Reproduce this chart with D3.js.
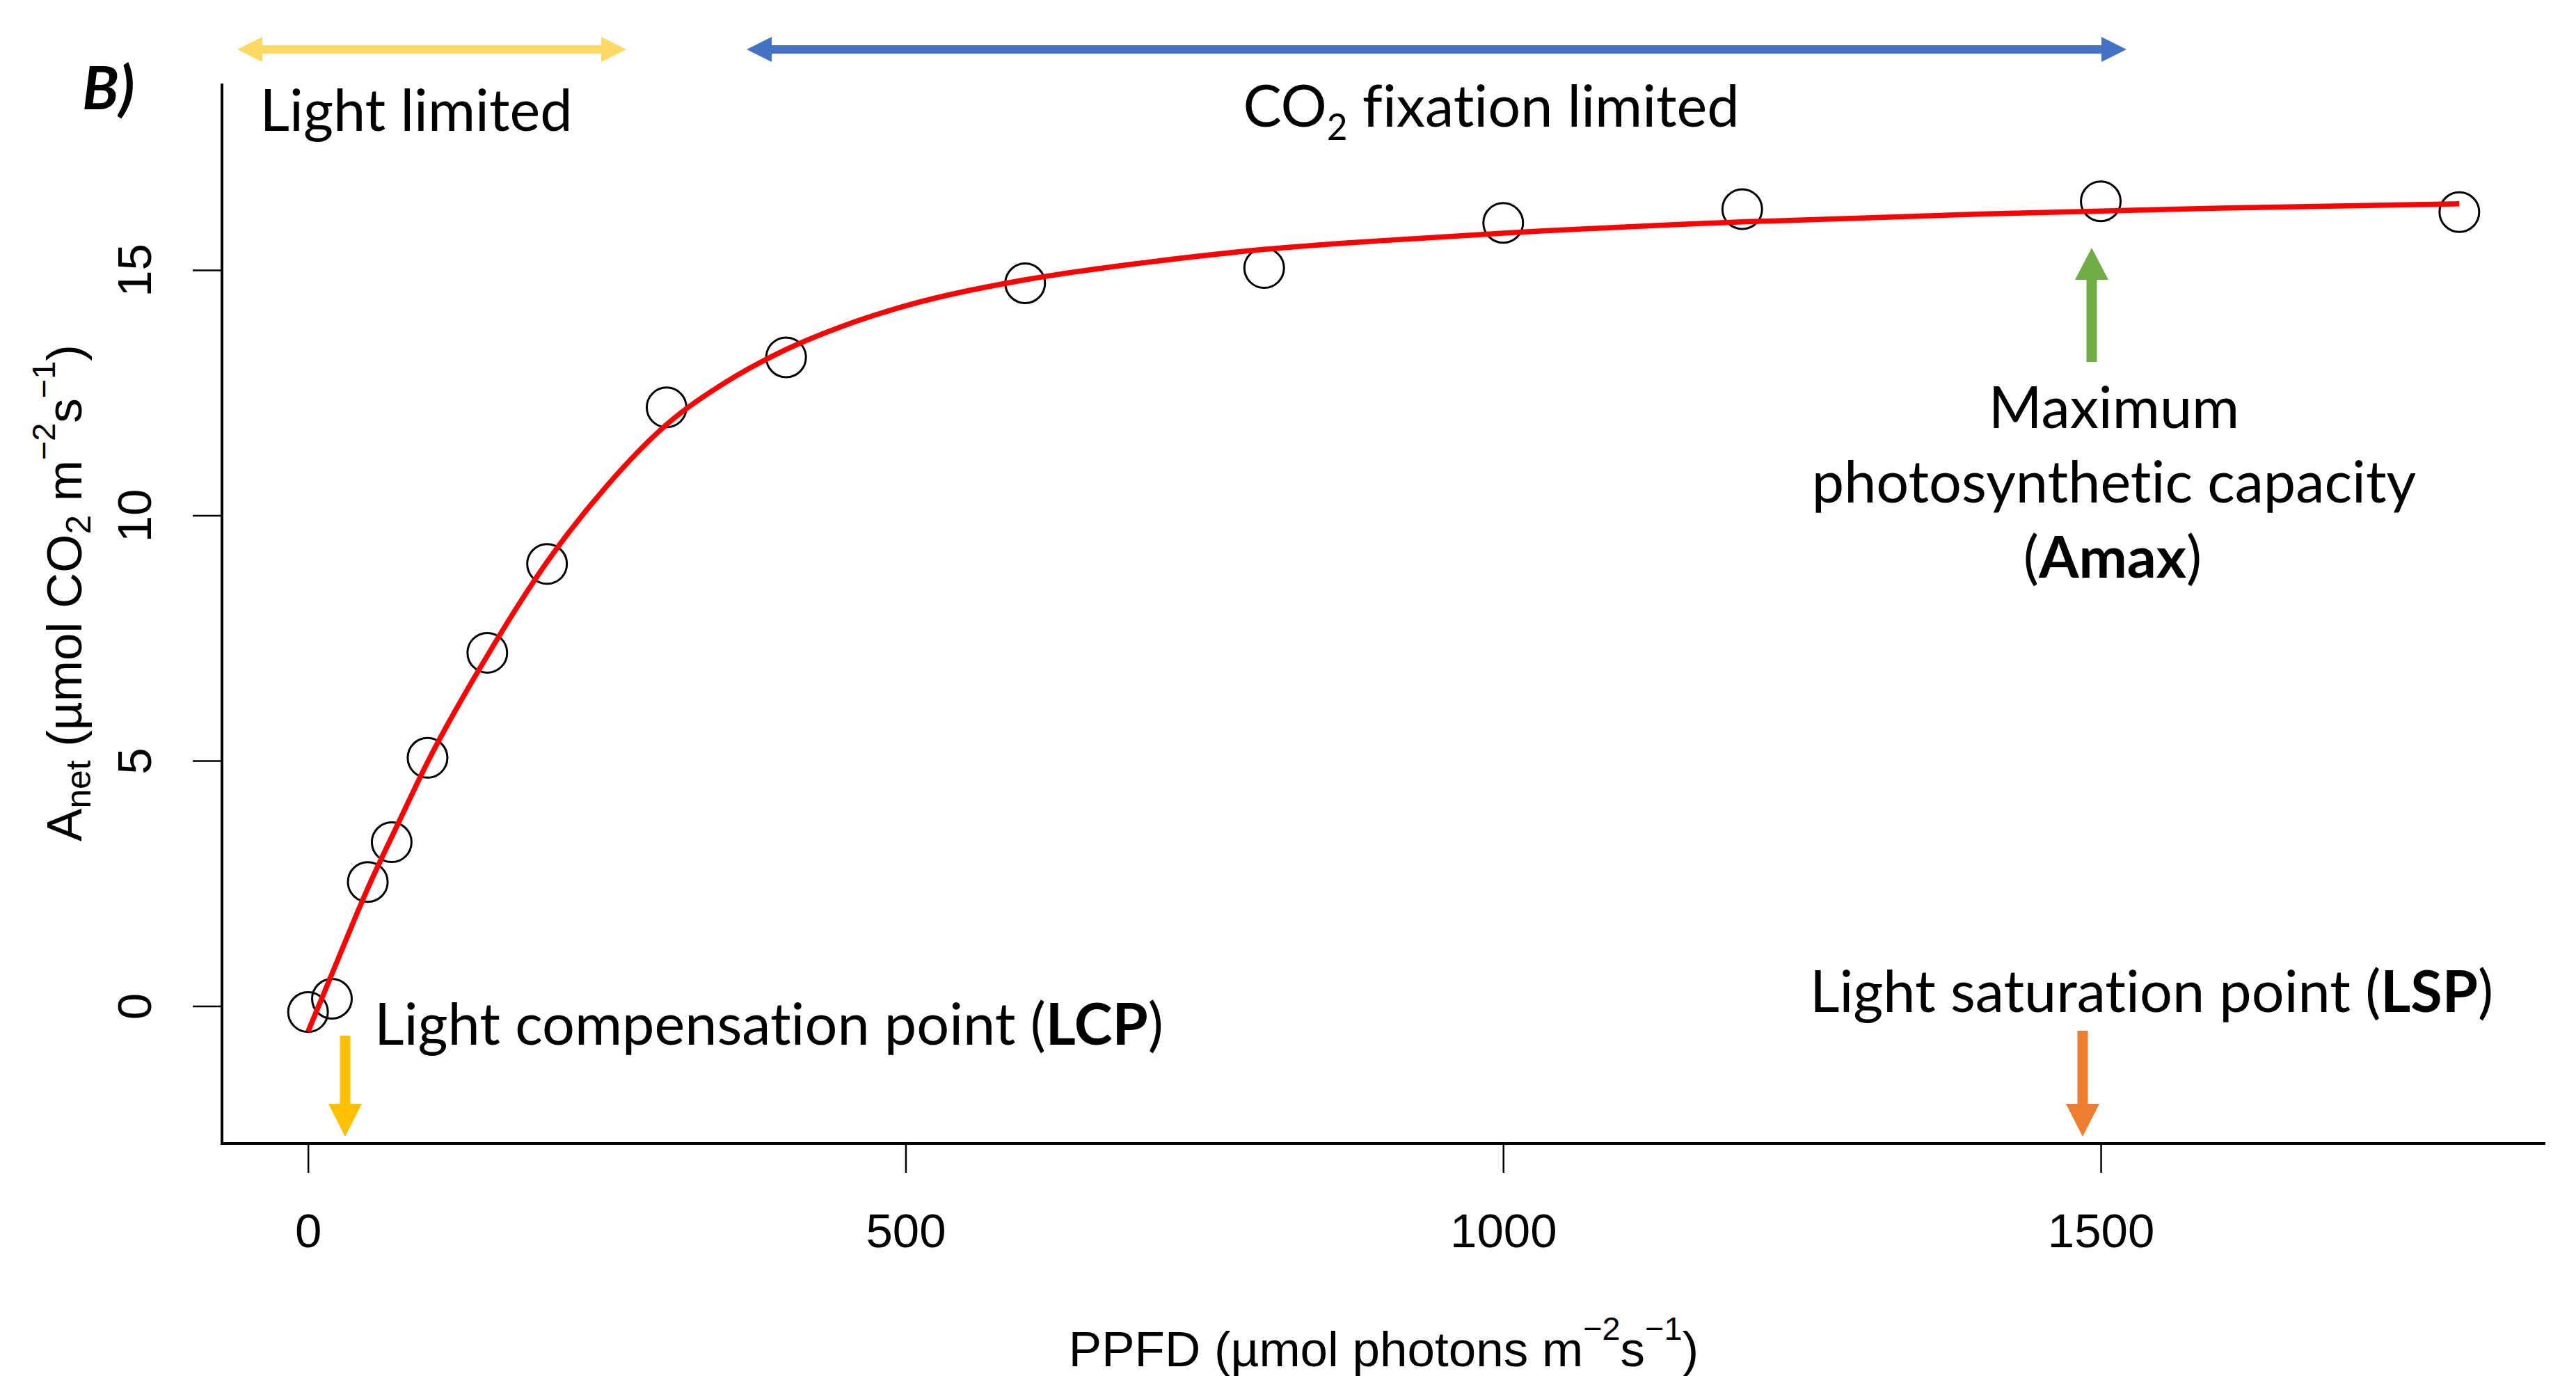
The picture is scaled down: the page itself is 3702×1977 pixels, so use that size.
<!DOCTYPE html>
<html>
<head>
<meta charset="utf-8">
<script src="https://cdn.jsdelivr.net/npm/d3@7"></script>
<style>
  html, body { margin: 0; padding: 0; background: #fff; }
  svg { display: block; }
  text { font-variant-ligatures: none; font-feature-settings: "liga" 0, "clig" 0; }
</style>
</head>
<body>
<div id="chart"></div>
<script>
// measured points (open circles)
var ppfd = [0, 20, 50, 70, 100, 150, 200, 300, 400, 600, 800, 1000, 1200, 1500, 1800];
var anet = [-0.12, 0.15, 2.53, 3.34, 5.06, 7.2, 9.01, 12.2, 13.22, 14.73, 15.04, 15.96, 16.24, 16.4, 16.18];

// red fitted curve
var fit_ppfd = [0, 25, 50, 75, 100, 150, 200, 250, 300, 350, 400, 450, 500, 600, 700, 800, 900, 1000, 1200, 1400, 1600, 1800];
var fit_anet = [-0.52, 0.95, 2.4, 3.7, 4.97, 7.14, 9.05, 10.6, 11.85, 12.72, 13.38, 13.88, 14.27, 14.8, 15.15, 15.42, 15.6, 15.75, 15.98, 16.14, 16.26, 16.35];

var x_ticks = [0, 500, 1000, 1500];
var y_ticks = [0, 5, 10, 15];
var x_lim = [0, 1800];
var y_lim = [-2, 18];

var width = 3702, height = 1977;
var plot_left = 319, plot_right = 3658, plot_top = 120, plot_bottom = 1643;
var r_font = "'Liberation Sans', Arial, Helvetica, sans-serif";
var ppt_font = "Lato, 'Open Sans', sans-serif";
var r_size = 69;
var lab_size = 71;

// R style axis padding (4% each side)
function pad(lim){
  var d = (lim[1] - lim[0]) * 0.04;
  return [lim[0] - d, lim[1] + d];
}

var x = d3.scaleLinear().domain(pad(x_lim)).range([plot_left, plot_right]);
var y = d3.scaleLinear().domain(pad(y_lim)).range([plot_bottom, plot_top]);

var svg = d3.select('#chart')
  .append('svg')
  .attr('width', width)
  .attr('height', height)
  .style('background', '#fff');

// axes (ticks + labels), box drawn separately (bty = "l")
var x_axis = svg.append('g')
  .attr('transform', 'translate(0,' + plot_bottom + ')')
  .call(d3.axisBottom(x).tickValues(x_ticks).tickSize(42).tickPadding(58).tickFormat(d3.format('d')));
x_axis.select('.domain').remove();
x_axis.attr('font-size', r_size).attr('font-family', r_font);
x_axis.selectAll('line').attr('stroke-width', 2.5);
x_axis.selectAll('text').attr('fill', '#000');

var y_axis = svg.append('g')
  .attr('transform', 'translate(' + plot_left + ',0)')
  .call(d3.axisLeft(y).tickValues(y_ticks).tickSize(42).tickFormat(d3.format('d')));
y_axis.select('.domain').remove();
y_axis.attr('font-size', r_size).attr('font-family', r_font);
y_axis.selectAll('line').attr('stroke-width', 2.5);
y_axis.selectAll('text')
  .attr('fill', '#000')
  .attr('transform', 'rotate(-90)')
  .attr('x', 0)
  .attr('y', -(plot_left - 217))
  .attr('dy', 0)
  .attr('text-anchor', 'middle');

svg.append('path')
  .attr('d', 'M' + plot_left + ',' + plot_top + 'V' + plot_bottom + 'H' + plot_right)
  .attr('fill', 'none')
  .attr('stroke', '#000')
  .attr('stroke-width', 4);

// axis titles
var xlab = svg.append('text')
  .attr('x', (plot_left + plot_right) / 2)
  .attr('y', 1963)
  .attr('text-anchor', 'middle')
  .attr('font-family', r_font)
  .attr('font-size', lab_size);
xlab.append('tspan').text('PPFD (\u00b5mol photons m');
xlab.append('tspan').attr('dy', -38).attr('font-size', lab_size * 0.66).text('\u22122');
xlab.append('tspan').attr('dy', 38).text('s');
xlab.append('tspan').attr('dy', -38).attr('font-size', lab_size * 0.66).text('\u22121');
xlab.append('tspan').attr('dy', 38).text(')');

var ylab = svg.append('text')
  .attr('transform', 'translate(117,852) rotate(-90)')
  .attr('text-anchor', 'middle')
  .attr('font-family', r_font)
  .attr('font-size', lab_size);
ylab.append('tspan').text('A');
ylab.append('tspan').attr('dy', 13).attr('font-size', lab_size * 0.7).text('net');
ylab.append('tspan').attr('dy', -13).text(' (\u00b5mol CO');
ylab.append('tspan').attr('dy', 13).attr('font-size', lab_size * 0.7).text('2');
ylab.append('tspan').attr('dy', -13).text(' m');
ylab.append('tspan').attr('dy', -38).attr('font-size', lab_size * 0.66).text('\u22122');
ylab.append('tspan').attr('dy', 38).text('s');
ylab.append('tspan').attr('dy', -38).attr('font-size', lab_size * 0.66).text('\u22121');
ylab.append('tspan').attr('dy', 38).text(')');

// points
svg.append('g')
  .selectAll('circle')
  .data(d3.zip(ppfd, anet))
  .join('circle')
  .attr('cx', function(d){ return x(d[0]); })
  .attr('cy', function(d){ return y(d[1]); })
  .attr('r', 28.5)
  .attr('fill', 'none')
  .attr('stroke', '#000')
  .attr('stroke-width', 3);

// fitted curve
var line = d3.line()
  .x(function(d){ return x(d[0]); })
  .y(function(d){ return y(d[1]); })
  .curve(d3.curveMonotoneX);

svg.append('path')
  .datum(d3.zip(fit_ppfd, fit_anet))
  .attr('d', line)
  .attr('fill', 'none')
  .attr('stroke', '#ff0000')
  .attr('stroke-width', 7.5);

// annotation arrows
var head_len = 36, head_half = 18, shaft_half = 6;

function h_arrow(x1, x2, yc, colour){
  var pts = [
    [x1, yc], [x1 + head_len, yc - head_half], [x1 + head_len, yc - shaft_half],
    [x2 - head_len, yc - shaft_half], [x2 - head_len, yc - head_half], [x2, yc],
    [x2 - head_len, yc + head_half], [x2 - head_len, yc + shaft_half],
    [x1 + head_len, yc + shaft_half], [x1 + head_len, yc + head_half]
  ];
  svg.append('polygon')
    .attr('points', pts.map(function(p){ return p.join(','); }).join(' '))
    .attr('fill', colour);
}

function v_arrow(xc, y_tail, y_base, y_tip, colour){
  var sh = 7.5, hh = 24;
  var pts = [
    [xc - sh, y_tail], [xc + sh, y_tail], [xc + sh, y_base], [xc + hh, y_base],
    [xc, y_tip], [xc - hh, y_base], [xc - sh, y_base]
  ];
  svg.append('polygon')
    .attr('points', pts.map(function(p){ return p.join(','); }).join(' '))
    .attr('fill', colour);
}

h_arrow(341, 900, 71, '#FFD966');
h_arrow(1073, 3056, 71, '#4472C4');
v_arrow(496, 1488, 1586, 1633, '#FFC000');
v_arrow(2993, 1481, 1586, 1633, '#ED7D31');
v_arrow(3006, 520, 402, 356, '#70AD47');

// annotation text (Calibri-like)
var notes = svg.append('g')
  .attr('font-family', ppt_font)
  .attr('font-size', 100)
  .attr('fill', '#000');

var targets = [];

function note(cx, base, w){
  var t = notes.append('text')
    .attr('x', cx)
    .attr('y', base)
    .attr('text-anchor', 'middle');
  targets.push([t, w]);
  return t;
}

note(598, 188, 442).text('Light limited');

var co2 = note(2143, 182, 702);
co2.append('tspan').text('CO');
co2.append('tspan').attr('font-size', '0.62em').attr('dy', '0.37em').text('2');
co2.append('tspan').attr('dy', '-0.23em').text(' fixation limited');

var lcp = note(1105, 1501, 1136);
lcp.append('tspan').text('Light compensation point (');
lcp.append('tspan').attr('font-weight', 'bold').text('LCP');
lcp.append('tspan').text(')');

var lsp = note(3092, 1454, 981);
lsp.append('tspan').text('Light saturation point (');
lsp.append('tspan').attr('font-weight', 'bold').text('LSP');
lsp.append('tspan').text(')');

note(3038, 615, 366).text('Maximum');
note(3038, 722, 873).text('photosynthetic capacity');
var amax = note(3036, 830, 264);
amax.append('tspan').text('(');
amax.append('tspan').attr('font-weight', 'bold').text('Amax');
amax.append('tspan').text(')');

// one common size so all notes span about the same width as the reference
var sum_target = 0, sum_now = 0;
targets.forEach(function(t){
  sum_target += t[1];
  sum_now += t[0].node().getComputedTextLength();
});
notes.attr('font-size', 100 * sum_target / sum_now);

svg.append('text')
  .attr('x', 118)
  .attr('y', 157)
  .attr('font-family', ppt_font)
  .attr('font-size', 86)
  .attr('font-weight', 'bold')
  .attr('font-style', 'italic')
  .text('B)');
</script>
</body>
</html>
